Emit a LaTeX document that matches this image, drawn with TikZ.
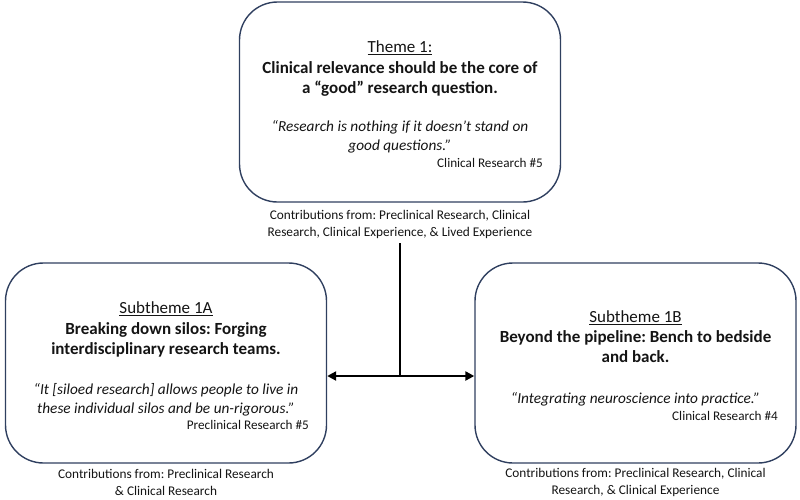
\documentclass[tikz,border=0pt]{standalone}
\usepackage{fontspec}
\setmainfont{Carlito}
\usetikzlibrary{arrows.meta}
\definecolor{boxc}{HTML}{2F3F5F}
\definecolor{txt}{HTML}{141414}
\frenchspacing
\begin{document}
\begin{tikzpicture}[x=1pt,y=-1pt,
  card/.style={draw=boxc, line width=1.4pt, rounded corners=38pt, minimum width=321pt, minimum height=200pt, inner sep=0pt},
  ttl/.style={font=\fontsize{17}{20}\selectfont, inner sep=0pt, text=txt},
  hd/.style={font=\fontsize{17}{20.5}\selectfont\bfseries, align=center, inner sep=0pt, text=txt},
  qt/.style={font=\fontsize{15.3}{19}\selectfont\itshape, align=center, inner sep=0pt, text=txt},
  src/.style={font=\fontsize{13.2}{15}\selectfont, anchor=east, inner sep=0pt, text=txt},
  contrib/.style={font=\fontsize{13.3}{16.5}\selectfont, align=center, inner sep=0pt, text=txt},
  conn/.style={line width=2.6pt, black}]
\useasboundingbox (0,0) rectangle (800,499);
% top box
\node[card] (tb) at (400,102) {};
\node[ttl] (tt) at (400,48) {\underline{Theme 1:}};
\node[hd] (th) at (400,79) {Clinical relevance should be the core of\\a “good” research question.};
\node[qt] (tq) at (400,136.5) {“Research is nothing if it doesn’t stand on\\good questions.”};
\node[src] (ts) at (543,162.5) {Clinical Research \#5};
\node[contrib] (tc) at (400,224.5) {Contributions from: Preclinical Research, Clinical\\Research, Clinical Experience, \& Lived Experience};
% left box
\node[card] (lb) at (166,363) {};
\node[ttl] (lt) at (166,309) {\underline{Subtheme 1A}};
\node[hd] (lh) at (166,340) {Breaking down silos: Forging\\interdisciplinary research teams.};
\node[qt] (lq) at (166,399.5) {“It [siloed research] allows people to live in\\these individual silos and be un-rigorous.”};
\node[src] (ls) at (309,425) {Preclinical Research \#5};
\node[contrib] (lc) at (166,482.5) {Contributions from: Preclinical Research\\\& Clinical Research};
% right box
\node[card] (rb) at (635.5,363) {};
\node[ttl] (rt) at (635.5,317.5) {\underline{Subtheme 1B}};
\node[hd] (rh) at (635.5,346.5) {Beyond the pipeline: Bench to bedside\\and back.};
\node[qt] (rq) at (635.5,399) {“Integrating neuroscience into practice.”};
\node[src] (rs) at (778,416) {Clinical Research \#4};
\node[contrib] (rc) at (635.5,482.5) {Contributions from: Preclinical Research, Clinical\\Research, \& Clinical Experience};
% connectors
\coordinate (vtop) at (400,243);
\coordinate (junc) at (400,376);
\draw[conn] (vtop) -- (junc);
\draw[conn, {Triangle[length=9pt,width=9pt]}-{Triangle[length=9pt,width=9pt]}] (lb.east |- junc) -- (rb.west |- junc);
\end{tikzpicture}
\end{document}
